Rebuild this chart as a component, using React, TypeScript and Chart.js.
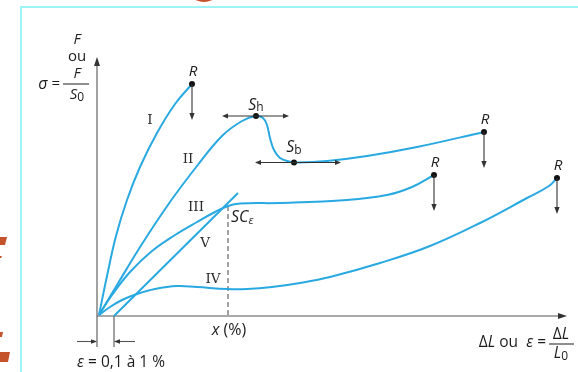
import React, { useEffect, useRef } from "react";
import { Chart, registerables } from "chart.js";

Chart.register(...registerables);

// Strain (x) / stress (y) in arbitrary units
const curveI: [number, number][] = [[2, 1], [10, 40], [19, 80], [30, 116], [43, 149], [60, 183], [78, 212], [95, 232]];
const curveII: [number, number][] = [[2, 1], [20, 31], [45, 72], [73, 114], [100, 150], [125, 180], [145, 195], [159, 200], [166, 198], [170, 191], [173, 178], [177, 166], [183, 158], [192, 154.5], [200, 153.5], [230, 155], [270, 160], [320, 169], [387, 184]];
const curveIII: [number, number][] = [[2, 1], [15, 21], [33, 44], [55, 65], [78, 81], [100, 94], [118, 104], [131, 110], [143, 112.5], [183, 113], [250, 116], [290, 121], [315, 129], [337, 141]];
const curveIV: [number, number][] = [[2, 1], [13, 9], [25, 16], [40, 22], [58, 27], [80, 30], [100, 29], [130, 27], [150, 27], [175, 29], [203, 33], [233, 39], [283, 53], [333, 70], [383, 93], [430, 118], [452, 130], [460, 138]];
const curveV: [number, number][] = [[17, 0], [141, 123]];
const rupturePoints: [number, number][] = [[95, 232], [387, 184], [337, 141], [460, 138]];
const yieldHigh: [number, number] = [159, 200];
const yieldLow: [number, number] = [197, 153.5];
const scPoint: [number, number] = [131, 110];
const offsetStrain = 17;
const romanLabels = ["I", "II", "III", "V", "IV"];
const romanAnchors: [number, number][] = [[53, 196], [91, 157], [99, 109], [108, 73], [116, 37]];

const BLUE = "#29a9e1";
const INK = "#1c1c1c";
const SANS = '"Open Sans", "Noto Sans", sans-serif';
const SERIF = '"DejaVu Serif", "Liberation Serif", serif';
const it = (s: number) => `italic ${s}px ${SANS}`;
const rg = (s: number) => `${s}px ${SANS}`;

type Run = { t: string; f: string; dy?: number };
function runs(ctx: CanvasRenderingContext2D, parts: Run[], x: number, y: number, align: "left" | "center" | "right") {
  const widths = parts.map((p) => { ctx.font = p.f; return ctx.measureText(p.t).width; });
  const total = widths.reduce((a, b) => a + b, 0);
  let sx = align === "left" ? x : align === "center" ? x - total / 2 : x - total;
  ctx.textAlign = "left";
  ctx.textBaseline = "middle";
  parts.forEach((p, i) => { ctx.font = p.f; ctx.fillText(p.t, sx, y + (p.dy || 0)); sx += widths[i]; });
}

function arrowHead(ctx: CanvasRenderingContext2D, x: number, y: number, ang: number, len = 7, half = 2.6) {
  ctx.save();
  ctx.translate(x, y);
  ctx.rotate(ang);
  ctx.beginPath();
  ctx.moveTo(0, 0);
  ctx.lineTo(-len, -half);
  ctx.lineTo(-len, half);
  ctx.closePath();
  ctx.fill();
  ctx.restore();
}

function line(ctx: CanvasRenderingContext2D, x1: number, y1: number, x2: number, y2: number) {
  ctx.beginPath();
  ctx.moveTo(x1, y1);
  ctx.lineTo(x2, y2);
  ctx.stroke();
}

const pts = (a: [number, number][]) => a.map(([x, y]) => ({ x, y }));

const decor = {
  id: "decor",
  beforeDatasetsDraw(chart: any) {
    const { ctx, chartArea: ca, scales } = chart;
    const xs = scales.x;
    ctx.save();
    // page frame
    ctx.strokeStyle = "#9ef3f5";
    ctx.lineWidth = 2;
    ctx.beginPath();
    ctx.moveTo(21, 400);
    ctx.lineTo(21, 7);
    ctx.lineTo(600, 7);
    ctx.stroke();
    // orange fragments
    ctx.fillStyle = "#c4522a";
    const polys = [
      [[0, 237], [7, 237], [5, 245], [0, 245]],
      [[0, 256], [2, 256], [1, 258], [0, 258]],
      [[0, 332], [3, 332], [2, 337], [0, 337]],
      [[0, 352], [10, 352], [8, 362], [0, 362]],
    ];
    polys.forEach((p) => {
      ctx.beginPath();
      p.forEach(([x, y], i) => (i ? ctx.lineTo(x, y) : ctx.moveTo(x, y)));
      ctx.closePath();
      ctx.fill();
    });
    ctx.beginPath();
    ctx.ellipse(204, -3, 10, 5, 0, 0, Math.PI * 2);
    ctx.fill();

    // axes
    ctx.strokeStyle = "#555";
    ctx.fillStyle = "#333";
    ctx.lineWidth = 1.1;
    const ox = ca.left, oy = ca.bottom;
    line(ctx, ox, oy + 31, ox, ca.top + 4);
    arrowHead(ctx, ox, ca.top, -Math.PI / 2, 9, 3);
    line(ctx, ox, oy, ca.right - 4, oy);
    arrowHead(ctx, ca.right, oy, 0, 9, 3);
    // offset strain marker
    const ex = xs.getPixelForValue(offsetStrain);
    line(ctx, ex, oy, ex, oy + 31);
    const ay = oy + 25.5;
    line(ctx, ox - 20, ay, ox - 1, ay);
    arrowHead(ctx, ox, ay, 0, 6, 2.3);
    line(ctx, ex + 21, ay, ex + 1, ay);
    arrowHead(ctx, ex, ay, Math.PI, 6, 2.3);
    ctx.restore();
  },
  afterDatasetsDraw(chart: any) {
    const { ctx, chartArea: ca, scales } = chart;
    const xs = scales.x, ys = scales.y;
    const P = (p: [number, number]) => [xs.getPixelForValue(p[0]), ys.getPixelForValue(p[1])];
    ctx.save();
    ctx.strokeStyle = "#333";
    ctx.fillStyle = "#333";
    ctx.lineWidth = 1.1;
    // rupture arrows and labels
    rupturePoints.forEach((p) => {
      const [x, y] = P(p);
      line(ctx, x, y, x, y + 30);
      arrowHead(ctx, x, y + 36, Math.PI / 2, 7, 2.6);
      ctx.fillStyle = INK;
      runs(ctx, [{ t: "R", f: it(15) }], x + 1, y - 12, "center");
      ctx.fillStyle = "#333";
    });
    // yield double arrows
    const [hx, hy] = P(yieldHigh);
    line(ctx, hx - 30, hy, hx + 29, hy);
    arrowHead(ctx, hx - 34, hy, Math.PI, 6, 2.4);
    arrowHead(ctx, hx + 33, hy, 0, 6, 2.4);
    const [bx, by] = P(yieldLow);
    line(ctx, bx - 35, by, bx + 43, by);
    arrowHead(ctx, bx - 39, by, Math.PI, 6, 2.4);
    arrowHead(ctx, bx + 47, by, 0, 6, 2.4);
    ctx.fillStyle = INK;
    runs(ctx, [{ t: "S", f: it(16) }, { t: "h", f: rg(12), dy: 3 }], hx, hy - 11, "center");
    runs(ctx, [{ t: "S", f: it(16) }, { t: "b", f: rg(12), dy: 3 }], bx, by - 15, "center");
    const [sx, sy] = P(scPoint);
    runs(ctx, [{ t: "SC", f: it(16) }, { t: "ε", f: it(11), dy: 4 }], sx + 3, sy + 11, "left");

    // roman numerals
    ctx.fillStyle = "#2a2a2a";
    romanLabels.forEach((t, i) => {
      const [x, y] = P(romanAnchors[i]);
      runs(ctx, [{ t, f: `13.5px ${SERIF}` }], x, y, "center");
    });

    // axis titles
    ctx.fillStyle = INK;
    const oy = ca.bottom;
    runs(ctx, [{ t: "x", f: it(16) }, { t: " (%)", f: rg(16) }], sx + 1, oy + 14, "center");
    runs(ctx, [{ t: "ε", f: it(15.5) }, { t: " = 0,1 à 1 %", f: rg(15.5) }], 121, oy + 47, "center");
    // right label
    runs(ctx, [{ t: "Δ", f: rg(15.5) }, { t: "L", f: it(15.5) }, { t: " ou  ", f: rg(15.5) }, { t: "ε", f: it(15.5) }, { t: " =", f: rg(15.5) }], 546, oy + 27, "right");
    runs(ctx, [{ t: "Δ", f: rg(15.5) }, { t: "L", f: it(15.5) }], 561, oy + 19, "center");
    ctx.strokeStyle = INK;
    ctx.lineWidth = 1;
    line(ctx, 549, oy + 28, 574, oy + 28);
    runs(ctx, [{ t: "L", f: it(15.5) }, { t: "0", f: rg(12), dy: 3 }], 561, oy + 38, "center");
    // y label
    const lx = ca.left - 20;
    runs(ctx, [{ t: "F", f: it(15) }], lx, 40, "center");
    runs(ctx, [{ t: "ou", f: rg(15) }], lx, 57, "center");
    runs(ctx, [{ t: "σ", f: it(16) }, { t: " =", f: rg(15) }], 60, 84, "right");
    line(ctx, 63, 84, 89, 84);
    runs(ctx, [{ t: "F", f: it(15) }], lx, 74, "center");
    runs(ctx, [{ t: "S", f: it(15) }, { t: "0", f: rg(12), dy: 3 }], lx, 95, "center");
    ctx.restore();
  },
};

export default function App() {
  const ref = useRef<HTMLCanvasElement>(null);
  useEffect(() => {
    const curve = (data: [number, number][]) => ({
      data: pts(data),
      borderColor: BLUE,
      borderWidth: 2,
      pointRadius: 0,
      tension: 0.4,
      fill: false,
      order: 2,
      clip: false as any,
    });
    const chart = new Chart(ref.current!, {
      type: "line",
      data: {
        datasets: [
          {
            data: pts([...rupturePoints, yieldHigh, yieldLow]),
            showLine: false,
            pointRadius: 3,
            pointBackgroundColor: "#111",
            pointBorderColor: "#111",
            borderWidth: 0,
            order: 0,
            clip: false as any,
          },
          curve(curveI),
          curve(curveII),
          curve(curveIII),
          curve(curveIV),
          { ...curve(curveV), tension: 0 },
          {
            data: pts([scPoint, [scPoint[0], 0]]),
            borderColor: "#666",
            borderWidth: 1.2,
            borderDash: [5, 3],
            pointRadius: 0,
            order: 3,
          },
        ],
      },
      options: {
        animation: false,
        responsive: false,
        events: [],
        layout: { padding: { left: 97, right: 11, top: 57, bottom: 56 } },
        plugins: { legend: { display: false }, tooltip: { enabled: false } },
        scales: {
          x: { type: "linear", min: 0, max: 470, display: false },
          y: { type: "linear", min: 0, max: 259, display: false },
        },
      },
      plugins: [decor],
    });
    return () => chart.destroy();
  }, []);
  return (
    <div style={{ position: "fixed", left: 0, top: 0, width: 578, height: 372, background: "#fff" }}>
      <canvas ref={ref} width={578} height={372} style={{ display: "block", width: 578, height: 372 }} />
    </div>
  );
}
